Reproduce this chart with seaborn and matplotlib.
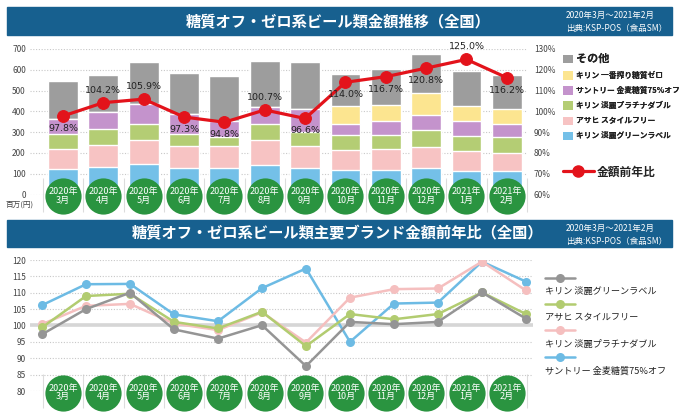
import numpy as np
import pandas as pd
import matplotlib
matplotlib.use("Agg")
import matplotlib.pyplot as plt
import matplotlib.transforms as mtransforms
from matplotlib.patches import Rectangle, Patch
from matplotlib.lines import Line2D
import seaborn as sns

# ---------------- data ----------------
months = ["2020年\n3月", "2020年\n4月", "2020年\n5月", "2020年\n6月", "2020年\n7月", "2020年\n8月",
          "2020年\n9月", "2020年\n10月", "2020年\n11月", "2020年\n12月", "2021年\n1月", "2021年\n2月"]

# top chart: sales (million yen), stacked bottom -> top
green_label = [121, 134, 146, 126, 126, 142, 126, 118, 118, 129, 113, 113]   # キリン 淡麗グリーンラベル
style_free = [96, 106, 115, 106, 106, 119, 106, 95, 99, 100, 96, 88]         # アサヒ スタイルフリー
platinum = [73, 74, 80, 61, 45, 80, 68, 72, 68, 83, 73, 76]                 # キリン 淡麗プラチナダブル
kinmugi = [75, 83, 96, 93, 75, 79, 113, 56, 69, 69, 70, 64]                 # サントリー 金麦糖質75%オフ
ichiban = [0, 0, 0, 0, 0, 0, 0, 84, 79, 107, 73, 69]                        # キリン 一番搾り糖質ゼロ
others = [183, 180, 199, 197, 220, 221, 226, 155, 171, 188, 168, 164]       # その他
yoy_total = [97.8, 104.2, 105.9, 97.3, 94.8, 100.7, 96.6, 114.0, 116.7, 120.8, 125.0, 116.2]
label_above = [False, True, True, False, False, True, False, False, False, False, True, False]

stack_names = ["キリン 淡麗グリーンラベル", "アサヒ スタイルフリー", "キリン 淡麗プラチナダブル",
               "サントリー 金麦糖質75%オフ", "キリン 一番搾り糖質ゼロ", "その他"]
stack_colors = ["#74c0e8", "#f7c3c3", "#b4cd74", "#c493cc", "#fce590", "#9d9d9d"]

# bottom chart: YoY index by brand
brand_names = ["キリン 淡麗グリーンラベル", "アサヒ スタイルフリー", "キリン 淡麗プラチナダブル", "サントリー 金麦糖質75%オフ"]
s_gray = [97.3, 105.0, 110.0, 98.8, 96.0, 100.1, 87.6, 101.1, 100.4, 101.1, 110.1, 102.1]
s_green = [99.4, 109.0, 109.7, 101.1, 99.1, 104.2, 93.7, 103.5, 101.9, 103.5, 110.1, 103.5]
s_pink = [100.4, 106.0, 106.6, 100.6, 98.6, 104.0, 94.8, 108.5, 111.1, 111.3, 119.5, 110.7]
s_blue = [106.2, 112.6, 112.7, 103.4, 101.3, 111.4, 117.4, 95.0, 106.7, 107.0, 119.5, 113.4]
line_colors = ["#959595", "#b2cc70", "#f5bfbf", "#6dbbe4"]

title_top = "糖質オフ・ゼロ系ビール類金額推移（全国）"
title_bottom = "糖質オフ・ゼロ系ビール類主要ブランド金額前年比（全国）"
period = "2020年3月～2021年2月"
source = "出典:KSP-POS（食品SM）"

# ---------------- style ----------------
sns.set_theme(style="white")
plt.rcParams["font.family"] = ["Noto Sans CJK JP", "DejaVu Sans"]

W, H = 680, 415
fig = plt.figure(figsize=(W / 100, H / 100), dpi=100)
fig.patch.set_facecolor("white")


def fx(px):
    return px / W


def fy(py):
    return 1 - py / H


BANNER = "#17608f"
CIRCLE = "#2a9440"
RED = "#e3131b"
GRID = "#c8c8c8"


def banner(y0, y1, title):
    fig.patches.append(Rectangle((fx(7), fy(y1)), (672 - 7) / W, (y1 - y0) / H,
                                 transform=fig.transFigure, color=BANNER, zorder=0))
    fig.text(fx(338), fy((y0 + y1) / 2), title, color="white", fontsize=11, fontweight="bold",
             ha="center", va="center")
    fig.text(fx(566), fy(y0 + 8), period, color="white", fontsize=6.1, ha="left", va="center")
    fig.text(fx(566), fy(y0 + 21), source, color="white", fontsize=6.1, ha="left", va="center")


banner(7, 35, title_top)
banner(220, 247, title_bottom)


def circles(ax, yfrac):
    trans = mtransforms.blended_transform_factory(ax.transData, ax.transAxes)
    xs = np.arange(len(months))
    ax.scatter(xs, [yfrac] * len(xs), s=680, color=CIRCLE, transform=trans, clip_on=False,
               zorder=6, linewidths=0)
    for x, m in zip(xs, months):
        ax.text(x, yfrac, m, transform=trans, ha="center", va="center", color="white",
                fontsize=6.5, linespacing=0.95, zorder=7, clip_on=False)


def separators(ax):
    ax.set_xticks(np.arange(-0.5, len(months), 1))
    ax.set_xticklabels([])
    ax.tick_params(axis="x", which="major", direction="inout", length=25, width=0.8,
                   color="#dcdcdc", bottom=True, top=False)


# ---------------- top chart ----------------
ax = fig.add_axes([fx(30), fy(194.6), (527 - 30) / W, (194.6 - 49) / H])
cum = np.cumsum(np.vstack([green_label, style_free, platinum, kinmugi, ichiban, others]), axis=0)
for i in reversed(range(cum.shape[0])):
    sns.barplot(x=months, y=cum[i], order=months, color=stack_colors[i], width=0.74,
                saturation=1, ax=ax, zorder=2)
ax.set_ylim(0, 700)
ax.set_yticks(np.arange(0, 701, 100))
ax.yaxis.grid(True, color=GRID, linestyle=(0, (1, 1.5)), linewidth=0.8)
ax.set_axisbelow(True)
for s in ax.spines.values():
    s.set_visible(False)
ax.tick_params(axis="y", labelsize=6, colors="#444444", length=0, pad=3)
ax.set_xlabel("")
ax.set_ylabel("")
separators(ax)

ax2 = ax.twinx()
sns.lineplot(x=np.arange(len(months)), y=yoy_total, ax=ax2, color=RED, linewidth=2.3,
             marker="o", markersize=8.5, markeredgecolor=RED, zorder=5)
ax2.set_ylim(60, 130)
ax2.set_yticks(np.arange(60, 131, 10))
ax2.set_yticklabels([f"{v}%" for v in range(60, 131, 10)])
ax2.tick_params(axis="y", labelsize=6, colors="#444444", length=0, pad=5)
for s in ax2.spines.values():
    s.set_visible(False)
ax2.set_ylabel("")
for i, (v, up) in enumerate(zip(yoy_total, label_above)):
    ax2.annotate(f"{v:.1f}%", (i, v), xytext=(0, 9 if up else -9), textcoords="offset points",
                 ha="center", va="center", fontsize=6.8, color="#222222",
                 family=["Liberation Sans Narrow", "DejaVu Sans"], zorder=8)
ax.set_xlim(-0.818, 11.5)
ax2.set_xlim(-0.818, 11.5)
circles(ax, -0.01)
fig.text(fx(20), fy(205), "百万(円)", fontsize=5.5, color="#444444", ha="center", va="center")

# top legend
handles = [Patch(facecolor=stack_colors[i], edgecolor="none") for i in reversed(range(6))]
labels = list(reversed(stack_names))
leg = ax.legend(handles, labels, loc="upper left", bbox_to_anchor=(fx(563), fy(52)),
                bbox_transform=fig.transFigure, frameon=False, fontsize=5.6,
                handlelength=1.25, handleheight=1.25, handletextpad=0.4, labelspacing=0.78,
                borderpad=0, borderaxespad=0)
for t in leg.get_texts():
    t.set_fontweight("bold")
    t.set_color("#222222")
leg.get_texts()[0].set_fontsize(8)
ax.add_artist(leg)
leg2 = ax2.legend([Line2D([0], [0], color=RED, lw=2.3, marker="o", markersize=8)], ["金額前年比"],
                  loc="center left", bbox_to_anchor=(fx(563), fy(172)), bbox_transform=fig.transFigure,
                  frameon=False, fontsize=8.5, handlelength=2.6, handletextpad=0.3,
                  borderpad=0, borderaxespad=0)
for t in leg2.get_texts():
    t.set_fontweight("bold")
    t.set_color("#222222")

# ---------------- bottom chart ----------------
ax3 = fig.add_axes([fx(30), fy(391), (533 - 30) / W, (391 - 260) / H])
ax3.set_ylim(80, 120)
ax3.set_yticks(np.arange(80, 121, 5))
ax3.yaxis.grid(True, color=GRID, linestyle=(0, (1, 1.5)), linewidth=0.8)
ax3.axhline(100, color="#d6d6d6", linewidth=2.6, zorder=1)
ax3.set_axisbelow(True)
for s in ax3.spines.values():
    s.set_visible(False)
ax3.tick_params(axis="y", labelsize=6, colors="#444444", length=0, pad=3)
ax3.set_xlim(-0.818, 11.644)
separators(ax3)
circles(ax3, -0.012)

ax4 = ax3.twiny()
series = [s_blue, s_pink, s_green, s_gray]
cols = [line_colors[3], line_colors[2], line_colors[1], line_colors[0]]
for vals, c in zip(series, cols):
    sns.lineplot(x=np.arange(len(months)), y=vals, ax=ax4, color=c, linewidth=1.8,
                 marker="o", markersize=6.5, markeredgewidth=0, zorder=4)
ax4.set_xlim(-0.273, 11.16)
ax4.set_xticks([])
ax4.set_xlabel("")
ax4.set_ylabel("")
for s in ax4.spines.values():
    s.set_visible(False)

# bottom legend (key above text)
leg_y = [(278, 291), (304, 318), (330, 344), (357, 371)]
for name, c, (yl, yt) in zip(brand_names, line_colors, leg_y):
    fig.add_artist(Line2D([fx(545), fx(575)], [fy(yl), fy(yl)], color=c, lw=1.8,
                          transform=fig.transFigure))
    fig.add_artist(Line2D([fx(560)], [fy(yl)], color=c, marker="o", markersize=6.5,
                          markeredgewidth=0, transform=fig.transFigure))
    fig.text(fx(545), fy(yt), name, fontsize=6.6, color="#222222",
             ha="left", va="center")

fig.savefig("out.png", dpi=100)
